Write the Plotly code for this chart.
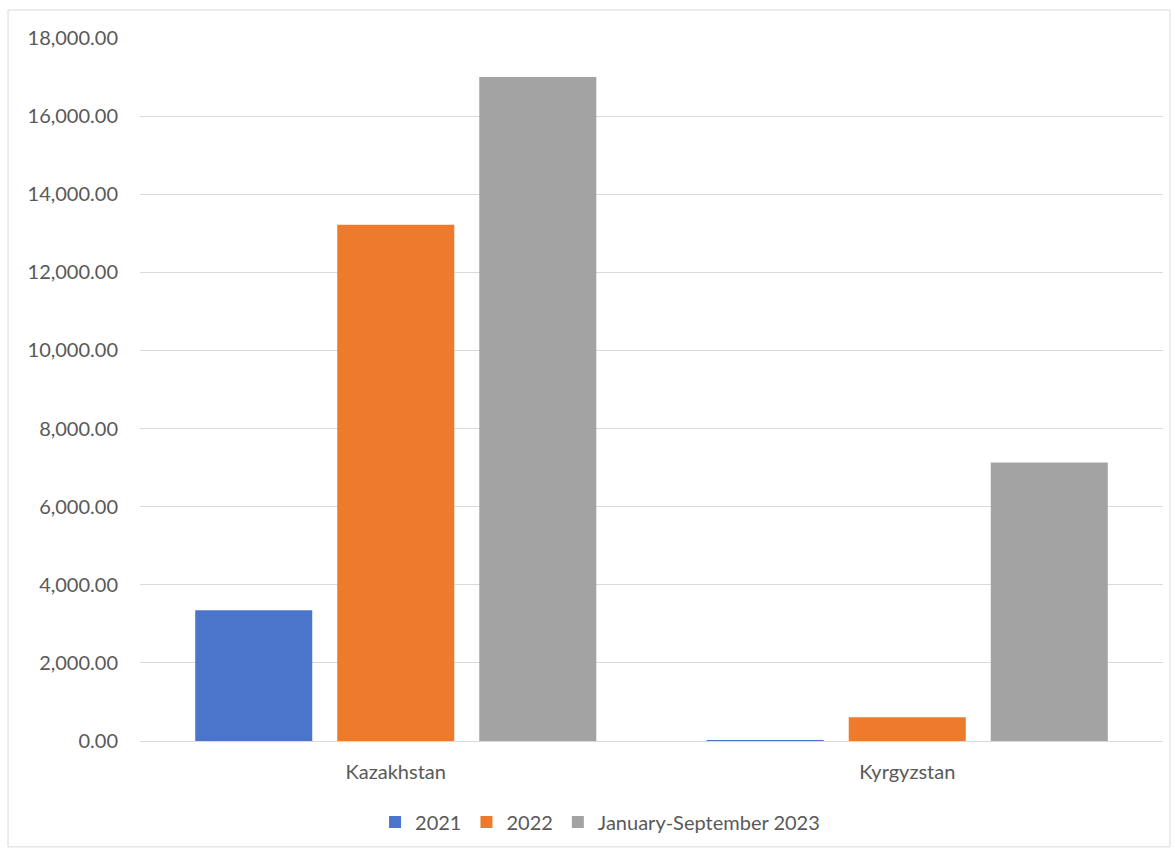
import plotly.graph_objects as go

categories = ["Kazakhstan", "Kyrgyzstan"]
series_names = ["2021", "2022", "January-September 2023"]
values_2021 = [3350, 25]
values_2022 = [13220, 610]
values_2023 = [17000, 7130]
tick_values = [0, 2000, 4000, 6000, 8000, 10000, 12000, 14000, 16000, 18000]

colors = ["#4A75CA", "#EE7A2C", "#A3A3A3"]

fig = go.Figure()
for name, vals, col in zip(series_names, [values_2021, values_2022, values_2023], colors):
    fig.add_trace(go.Bar(name=name, x=categories, y=vals, marker=dict(color=col, line=dict(width=0))))

font_family = "Lato, 'Open Sans', sans-serif"
fig.update_layout(
    width=1175, height=852,
    margin=dict(l=140, r=12, t=38, b=110),
    paper_bgcolor="white", plot_bgcolor="white",
    barmode="group", bargap=0.167, bargroupgap=0.176,
    font=dict(family=font_family, size=20, color="#595959"),
    legend=dict(orientation="h", x=0.4497, xanchor="center", y=-0.1136, yanchor="middle",
                font=dict(size=20, color="#595959"), traceorder="normal", itemwidth=30),
    xaxis=dict(showgrid=False, showline=True, linecolor="#D9D9D9", ticks="",
               ticklabelstandoff=13, tickfont=dict(size=20, color="#595959")),
    yaxis=dict(range=[0, 18000], tickvals=tick_values, tickformat=",.2f", showgrid=True,
               gridcolor="#D9D9D9", zeroline=False, showline=False, ticks="",
               ticklabelstandoff=21, tickfont=dict(size=20, color="#595959")),
    shapes=[dict(type="rect", xref="paper", yref="paper", x0=-0.129, x1=1.0068, y0=-0.1506, y1=1.0398,
                 line=dict(color="#D9D9D9", width=1), fillcolor="rgba(0,0,0,0)", layer="below")],
)

fig.write_html("out.html", config={"displayModeBar": False},
               post_script="document.body.style.margin='0';")
